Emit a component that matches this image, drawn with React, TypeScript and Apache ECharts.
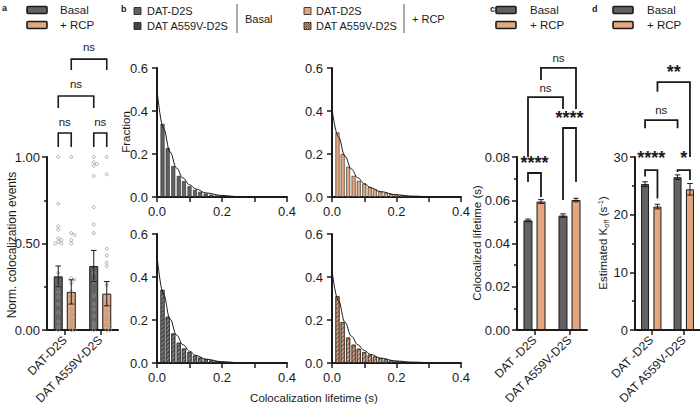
import React, { useEffect, useRef } from 'react';
import * as echarts from 'echarts';

const FONT = '"Liberation Sans", Arial, Helvetica, sans-serif';
const INK = '#1b1b1b';
const DARK = '#626262';
const ORANGE = '#E3A67E';
const POINT = '#9a9a9a';

// ---------- panel a : normalized colocalization events ----------
const groupsA = ['DAT-D2S', 'DAT A559V-D2S'];
const eventsBasal = [0.31, 0.37];
const eventsBasalSem = [0.06, 0.09];
const eventsRcp = [0.22, 0.21];
const eventsRcpSem = [0.07, 0.07];
const pointsBasalD2S = [1.0, 0.73, 0.6, 0.58, 0.53, 0.52, 0.51, 0.5, 0.5, 0.33, 0.25, 0.22, 0.19, 0.15, 0.1, 0.05, 0.02, 0.0];
const pointsRcpD2S = [1.0, 0.56, 0.55, 0.52, 0.5, 0.3, 0.29, 0.27, 0.22, 0.19, 0.16, 0.12, 0.09, 0.06, 0.04, 0.02, 0.0, 0.0];
const pointsBasalA559V = [1.0, 0.97, 0.96, 0.95, 0.89, 0.71, 0.61, 0.56, 0.33, 0.28, 0.2, 0.15, 0.12, 0.08, 0.04, 0.02, 0.0];
const pointsRcpA559V = [1.0, 0.9, 0.47, 0.43, 0.39, 0.37, 0.26, 0.16, 0.14, 0.11, 0.08, 0.06, 0.03, 0.02, 0.0, 0.0];

// ---------- panel b : lifetime histograms ----------
const binCenters = [0.017, 0.033, 0.05, 0.067, 0.083, 0.1, 0.117, 0.133, 0.15, 0.167, 0.183, 0.2, 0.217, 0.233, 0.25];
const fracBasalD2S = [0.34, 0.228, 0.144, 0.098, 0.074, 0.05, 0.033, 0.024, 0.016, 0.011, 0.007, 0.005, 0.003, 0.002, 0.001];
const fracRcpD2S = [0.3, 0.2, 0.14, 0.098, 0.075, 0.062, 0.047, 0.036, 0.026, 0.02, 0.015, 0.012, 0.008, 0.005, 0.004];
const fracBasalA559V = [0.34, 0.215, 0.137, 0.094, 0.067, 0.05, 0.034, 0.025, 0.018, 0.012, 0.008, 0.005, 0.003, 0.002, 0.001];
const fracRcpA559V = [0.31, 0.19, 0.118, 0.085, 0.066, 0.05, 0.038, 0.03, 0.022, 0.017, 0.012, 0.009, 0.006, 0.004, 0.003];
const fitX = [0, 0.02, 0.04, 0.06, 0.08, 0.1, 0.12, 0.15, 0.2, 0.25, 0.3, 0.35];
const fitBasalD2S = [0.5, 0.32, 0.21, 0.135, 0.088, 0.057, 0.037, 0.019, 0.007, 0.002, 0.001, 0.0005];
const fitRcpD2S = [0.41, 0.28, 0.19, 0.13, 0.09, 0.062, 0.043, 0.025, 0.01, 0.004, 0.002, 0.001];
const fitBasalA559V = [0.5, 0.32, 0.205, 0.13, 0.085, 0.055, 0.035, 0.018, 0.006, 0.002, 0.001, 0.0005];
const fitRcpA559V = [0.43, 0.29, 0.19, 0.125, 0.085, 0.058, 0.04, 0.023, 0.009, 0.004, 0.002, 0.001];

// ---------- panels c / d ----------
const groupsCD = ['DAT -D2S', 'DAT A559V-D2S'];
const lifetimeBasal = [0.0507, 0.0529];
const lifetimeBasalSem = [0.0006, 0.0008];
const lifetimeRcp = [0.0594, 0.0601];
const lifetimeRcpSem = [0.0009, 0.0008];
const koffBasal = [25.3, 26.5];
const koffBasalSem = [0.4, 0.4];
const koffRcp = [21.4, 24.4];
const koffRcpSem = [0.4, 1.0];

// ---------- significance brackets: [cat1, side1, cat2, side2, top, leg1, leg2, labelY] ----------
const bracketLabelsA = ['ns', 'ns', 'ns', 'ns'];
const bracketRowsA = [
  [0, -1, 0, 1, 1.139, 1.058, 1.058, 1.202],
  [1, -1, 1, 1, 1.139, 1.058, 1.058, 1.202],
  [0, -1, 1, -1, 1.353, 1.283, 1.283, 1.422],
  [0, 1, 1, 1, 1.566, 1.503, 1.503, 1.636],
];
const bracketLabelsC = ['****', '****', 'ns', 'ns'];
const bracketRowsC = [
  [0, -1, 0, 1, 0.0726, 0.0684, 0.0615, 0.0772],
  [1, -1, 1, 1, 0.0934, 0.0601, 0.0684, 0.098],
  [0, -1, 1, -1, 0.1077, 0.08, 0.1022, 0.1119],
  [0, 1, 1, 1, 0.1212, 0.1156, 0.1022, 0.1258],
];
const bracketLabelsD = ['****', '*', 'ns', '**'];
const bracketRowsD = [
  [0, -1, 0, 1, 27.74, 26.6, 22.8, 29.8],
  [1, -1, 1, 1, 27.74, 27.4, 26.0, 29.8],
  [0, -1, 1, -1, 36.4, 35.0, 35.0, 38.2],
  [0, 1, 1, 1, 43.0, 41.3, 30.0, 44.7],
];

function swarm(values: number[], pxPerUnit: number): number[] {
  const placed: { x: number; y: number }[] = [];
  const cand = [0, 3.2, -3.2, 6.4, -6.4];
  return values.map((v) => {
    const y = v * pxPerUnit;
    for (const c of cand) {
      if (placed.every((p) => Math.hypot(p.x - c, p.y - y) >= 3)) {
        placed.push({ x: c, y });
        return c;
      }
    }
    placed.push({ x: 0, y });
    return 0;
  });
}

function errorBars(g: number, rows: number[][], off: number) {
  return {
    type: 'custom',
    xAxisIndex: g,
    yAxisIndex: g,
    z: 6,
    data: rows,
    renderItem: (_p: any, api: any) => {
      const cat = api.value(0), m = api.value(1), s = api.value(2), side = api.value(3);
      const top = api.coord([cat, m + s]);
      const bot = api.coord([cat, m - s]);
      const x = top[0] + side * off;
      const st = { stroke: INK, lineWidth: 1 };
      const cap = 2.8;
      return {
        type: 'group',
        children: [
          { type: 'line', shape: { x1: x, y1: top[1], x2: x, y2: bot[1] }, style: st },
          { type: 'line', shape: { x1: x - cap, y1: top[1], x2: x + cap, y2: top[1] }, style: st },
          { type: 'line', shape: { x1: x - cap, y1: bot[1], x2: x + cap, y2: bot[1] }, style: st },
        ],
      };
    },
  };
}

function brackets(g: number, rows: number[][], labels: string[], off: number, lw: number) {
  return {
    type: 'custom',
    xAxisIndex: g,
    yAxisIndex: g,
    z: 7,
    encode: { x: 0, y: 4 },
    data: rows,
    renderItem: (p: any, api: any) => {
      const c1 = api.value(0), s1 = api.value(1), c2 = api.value(2), s2 = api.value(3);
      const top = api.value(4), l1 = api.value(5), l2 = api.value(6), ly = api.value(7);
      const a = api.coord([c1, top]);
      const b = api.coord([c2, top]);
      const x1 = a[0] + s1 * off;
      const x2 = b[0] + s2 * off;
      const yTop = a[1];
      const y1 = api.coord([c1, l1])[1];
      const y2 = api.coord([c2, l2])[1];
      const yl = api.coord([c1, ly])[1];
      const label = labels[p.dataIndex];
      const star = label.indexOf('*') >= 0;
      return {
        type: 'group',
        children: [
          {
            type: 'polyline',
            shape: { points: [[x1, y1], [x1, yTop], [x2, yTop], [x2, y2]] },
            style: { stroke: INK, lineWidth: lw, fill: 'none' },
          },
          {
            type: 'text',
            x: (x1 + x2) / 2,
            y: yl,
            style: {
              text: label,
              textAlign: 'center',
              textVerticalAlign: 'middle',
              fontFamily: FONT,
              fontSize: star ? 18 : 11.5,
              fontWeight: star ? 'bold' : 'normal',
              fill: INK,
            },
          },
        ],
      };
    },
  };
}

function pointsSeries(g: number, rows: number[][], off: number) {
  return {
    type: 'custom',
    xAxisIndex: g,
    yAxisIndex: g,
    z: 5,
    data: rows,
    renderItem: (_p: any, api: any) => {
      const c = api.coord([api.value(0), api.value(1)]);
      return {
        type: 'circle',
        shape: { cx: c[0] + api.value(2) * off + api.value(3), cy: c[1], r: 1.5 },
        style: { fill: 'none', stroke: POINT, lineWidth: 0.8 },
      };
    },
  };
}

const axisLineStyle = { color: INK, width: 2 };
const tickStyle = { color: INK, width: 1.5 };
const labelBase = { fontFamily: FONT, color: INK };
const TICK_FONT = 13;

function catX(g: number, groups: string[]) {
  return {
    type: 'category',
    gridIndex: g,
    data: groups,
    axisLine: { show: true, lineStyle: axisLineStyle },
    axisTick: { show: true, alignWithLabel: true, length: 5, lineStyle: tickStyle },
    axisLabel: { ...labelBase, rotate: 45, fontSize: 12, margin: 8, interval: 0 },
    splitLine: { show: false },
  };
}

function valY(g: number, max: number, interval: number, fmt: (v: number) => string, minor: boolean, margin: number) {
  return {
    type: 'value',
    gridIndex: g,
    min: 0,
    max,
    interval,
    axisLine: { show: true, lineStyle: axisLineStyle },
    axisTick: { show: true, length: 5, lineStyle: tickStyle },
    minorTick: { show: minor, splitNumber: 2, length: 3, lineStyle: tickStyle },
    axisLabel: { ...labelBase, fontSize: TICK_FONT, margin, formatter: fmt },
    splitLine: { show: false },
    minorSplitLine: { show: false },
  };
}

function histX(g: number) {
  return {
    type: 'value',
    gridIndex: g,
    min: 0,
    max: 0.4,
    interval: 0.1,
    axisLine: { show: true, onZero: false, lineStyle: axisLineStyle },
    axisTick: { show: true, length: 5, lineStyle: tickStyle },
    axisLabel: {
      ...labelBase,
      fontSize: TICK_FONT,
      margin: 8,
      formatter: (v: number) => (Math.round(v * 10) % 2 === 0 ? v.toFixed(1) : ''),
    },
    splitLine: { show: false },
  };
}

const hatchDark = {
  symbol: 'rect',
  symbolSize: 1,
  dashArrayX: [1, 0],
  dashArrayY: [1, 2],
  rotation: -Math.PI / 4,
  color: 'rgba(255,255,255,0.35)',
};
const hatchOrange = {
  symbol: 'rect',
  symbolSize: 1,
  dashArrayX: [1, 0],
  dashArrayY: [1, 2],
  rotation: -Math.PI / 4,
  color: 'rgba(60,40,25,0.6)',
};

const histPanels = [
  { frac: fracBasalD2S, fit: fitBasalD2S, color: DARK, decal: null as any },
  { frac: fracRcpD2S, fit: fitRcpD2S, color: ORANGE, decal: null as any },
  { frac: fracBasalA559V, fit: fitBasalA559V, color: '#555555', decal: hatchDark },
  { frac: fracRcpA559V, fit: fitRcpA559V, color: ORANGE, decal: hatchOrange },
];

function hatchSquare(x0: number, y0: number, s: number, fill: string, stroke: string) {
  const children: any[] = [
    { type: 'rect', shape: { x: x0, y: y0, width: s, height: s }, style: { fill, stroke: INK, lineWidth: 0.8 } },
  ];
  for (let c = -s + 1.5; c < s; c += 2.2) {
    const sx = Math.max(0, c), sy = Math.max(0, -c);
    const ex = Math.min(s, s + c), ey = Math.min(s, s - c);
    children.push({
      type: 'line',
      shape: { x1: x0 + sx, y1: y0 + sy, x2: x0 + ex, y2: y0 + ey },
      style: { stroke, lineWidth: 0.9 },
    });
  }
  return { type: 'group', children };
}

function txt(text: string, x: number, y: number, extra: any = {}, elExtra: any = {}) {
  return {
    type: 'text',
    x,
    y,
    ...elExtra,
    style: {
      text,
      fontFamily: FONT,
      fontSize: 11,
      fill: INK,
      textAlign: 'left',
      textVerticalAlign: 'middle',
      ...extra,
    },
  };
}

function legendBox(x: number, y: number, fill: string) {
  return {
    type: 'rect',
    shape: { x, y, width: 20, height: 7, r: 1 },
    style: { fill, stroke: INK, lineWidth: 1.6 },
  };
}

export default function App() {
  const ref = useRef<HTMLDivElement>(null);

  useEffect(() => {
    if (!ref.current) return;
    const chart = echarts.init(ref.current, undefined, { renderer: 'svg' });

    const OFF_AC = 6.5;
    const OFF_D = 6.2;
    const pxA = 173;

    const ptsRows: number[][] = [];
    [
      [0, -1, pointsBasalD2S],
      [0, 1, pointsRcpD2S],
      [1, -1, pointsBasalA559V],
      [1, 1, pointsRcpA559V],
    ].forEach(([cat, side, vals]: any) => {
      const j = swarm(vals, pxA);
      vals.forEach((v: number, i: number) => ptsRows.push([cat, v, side, j[i]]));
    });

    const grids = [
      { left: 47, top: 157, width: 71, height: 173 },
      { left: 157, top: 68, width: 130, height: 129 },
      { left: 332, top: 68, width: 129, height: 129 },
      { left: 157, top: 234, width: 130, height: 129 },
      { left: 332, top: 234, width: 129, height: 129 },
      { left: 517, top: 157, width: 70, height: 173 },
      { left: 635, top: 157, width: 65, height: 173 },
    ].map((g) => ({ ...g, containLabel: false, outerBoundsMode: 'none' }));

    const xAxis: any[] = [catX(0, groupsA), histX(1), histX(2), histX(3), histX(4), catX(5, groupsCD), catX(6, groupsCD)];
    const f1 = (v: number) => v.toFixed(1);
    const yAxis: any[] = [
      valY(0, 1, 0.5, (v) => v.toFixed(2), true, 7),
      valY(1, 0.6, 0.2, f1, false, 9),
      valY(2, 0.6, 0.2, f1, false, 9),
      valY(3, 0.6, 0.2, f1, false, 9),
      valY(4, 0.6, 0.2, f1, false, 9),
      valY(5, 0.08, 0.02, (v) => v.toFixed(2), true, 7),
      valY(6, 30, 10, (v) => String(Math.round(v)), true, 7),
    ];

    const barStyle = (color: string) => ({ color, borderColor: INK, borderWidth: 1 });

    const series: any[] = [
      // panel a
      { type: 'bar', xAxisIndex: 0, yAxisIndex: 0, data: eventsBasal, barWidth: 9, barGap: '45%', itemStyle: barStyle(DARK), z: 2 },
      { type: 'bar', xAxisIndex: 0, yAxisIndex: 0, data: eventsRcp, barWidth: 9, barGap: '45%', itemStyle: barStyle(ORANGE), z: 2 },
      pointsSeries(0, ptsRows, OFF_AC),
      errorBars(0, [
        [0, eventsBasal[0], eventsBasalSem[0], -1],
        [1, eventsBasal[1], eventsBasalSem[1], -1],
        [0, eventsRcp[0], eventsRcpSem[0], 1],
        [1, eventsRcp[1], eventsRcpSem[1], 1],
      ], OFF_AC),
      brackets(0, bracketRowsA, bracketLabelsA, OFF_AC, 1.6),
      // panel c
      { type: 'bar', xAxisIndex: 5, yAxisIndex: 5, data: lifetimeBasal, barWidth: 9, barGap: '45%', itemStyle: barStyle(DARK) },
      { type: 'bar', xAxisIndex: 5, yAxisIndex: 5, data: lifetimeRcp, barWidth: 9, barGap: '45%', itemStyle: barStyle(ORANGE) },
      errorBars(5, [
        [0, lifetimeBasal[0], lifetimeBasalSem[0], -1],
        [1, lifetimeBasal[1], lifetimeBasalSem[1], -1],
        [0, lifetimeRcp[0], lifetimeRcpSem[0], 1],
        [1, lifetimeRcp[1], lifetimeRcpSem[1], 1],
      ], OFF_AC),
      brackets(5, bracketRowsC, bracketLabelsC, OFF_AC, 1.8),
      // panel d
      { type: 'bar', xAxisIndex: 6, yAxisIndex: 6, data: koffBasal, barWidth: 8, barGap: '55%', itemStyle: barStyle(DARK) },
      { type: 'bar', xAxisIndex: 6, yAxisIndex: 6, data: koffRcp, barWidth: 8, barGap: '55%', itemStyle: barStyle(ORANGE) },
      errorBars(6, [
        [0, koffBasal[0], koffBasalSem[0], -1],
        [1, koffBasal[1], koffBasalSem[1], -1],
        [0, koffRcp[0], koffRcpSem[0], 1],
        [1, koffRcp[1], koffRcpSem[1], 1],
      ], OFF_D),
      brackets(6, bracketRowsD, bracketLabelsD, OFF_D, 1.8),
    ];

    histPanels.forEach((h, i) => {
      const g = i + 1;
      series.push({
        type: 'bar',
        xAxisIndex: g,
        yAxisIndex: g,
        barWidth: 4,
        data: binCenters.map((x, k) => [x, h.frac[k]]),
        itemStyle: {
          color: h.color,
          borderColor: '#222',
          borderWidth: 0.6,
          ...(h.decal ? { decal: h.decal } : {}),
        },
      });
      series.push({
        type: 'line',
        xAxisIndex: g,
        yAxisIndex: g,
        data: fitX.map((x, k) => [x, h.fit[k]]),
        smooth: 0.4,
        smoothMonotone: 'x',
        showSymbol: false,
        symbol: 'none',
        lineStyle: { color: INK, width: 1 },
        z: 5,
      });
    });

    const bold = { fontWeight: 'bold', fontSize: 9 };
    const legFont = { fontSize: 11.5 };
    const legFontB = { fontSize: 11 };
    const graphic: any[] = [
      txt('a', 2, 8, bold),
      txt('b', 121, 9, bold),
      txt('c', 490, 9, bold),
      txt('d', 592, 9, bold),
      // legend a
      legendBox(27, 6.5, DARK),
      txt('Basal', 60, 10, legFont),
      legendBox(27, 21.5, ORANGE),
      txt('+ RCP', 60, 25, legFont),
      // legend c
      legendBox(496, 6.5, DARK),
      txt('Basal', 530, 10, legFont),
      legendBox(496, 21.5, ORANGE),
      txt('+ RCP', 530, 25, legFont),
      // legend d
      legendBox(613, 6.5, DARK),
      txt('Basal', 647, 10, legFont),
      legendBox(613, 21.5, ORANGE),
      txt('+ RCP', 647, 25, legFont),
      // legend b
      { type: 'rect', shape: { x: 134, y: 7.5, width: 7, height: 7 }, style: { fill: DARK, stroke: INK, lineWidth: 0.8 } },
      txt('DAT-D2S', 147, 11, legFontB),
      hatchSquare(134, 22.5, 7, DARK, INK),
      txt('DAT A559V-D2S', 147, 26, legFontB),
      { type: 'line', shape: { x1: 237, y1: 4, x2: 237, y2: 33 }, style: { stroke: '#555', lineWidth: 1 } },
      txt('Basal', 245, 18.5, legFontB),
      { type: 'rect', shape: { x: 304, y: 7.5, width: 7, height: 7 }, style: { fill: ORANGE, stroke: INK, lineWidth: 0.8 } },
      txt('DAT-D2S', 316, 11, legFontB),
      hatchSquare(304, 22.5, 7, ORANGE, '#3a2a1e'),
      txt('DAT A559V-D2S', 316, 26, legFontB),
      { type: 'line', shape: { x1: 404, y1: 4, x2: 404, y2: 33 }, style: { stroke: '#555', lineWidth: 1 } },
      txt('+ RCP', 412, 18.5, legFontB),
      // axis titles
      txt('Norm. colocalization events', 12, 245, { textAlign: 'center', fontSize: 12 }, { rotation: Math.PI / 2 }),
      txt('Fraction', 126, 132, { textAlign: 'center', fontSize: 11.5 }, { rotation: Math.PI / 2 }),
      txt('Colocalization lifetime (s)', 314, 398, { textAlign: 'center', fontSize: 11.5 }),
      txt('Colocalized lifetime (s)', 477, 243, { textAlign: 'center', fontSize: 11.5 }, { rotation: Math.PI / 2 }),
      {
        type: 'text',
        x: 603,
        y: 243,
        rotation: Math.PI / 2,
        style: {
          text: '{n|Estimated K}{s|off}{n| (s}{p|-1}{n|)}',
          textAlign: 'center',
          textVerticalAlign: 'middle',
          fill: INK,
          fontFamily: FONT,
          rich: {
            n: { fontSize: 11.5, lineHeight: 14, fontFamily: FONT, fill: INK },
            s: { fontSize: 7.5, lineHeight: 7, verticalAlign: 'bottom', fontFamily: FONT, fill: INK },
            p: { fontSize: 7.5, lineHeight: 7, verticalAlign: 'top', fontFamily: FONT, fill: INK },
          },
        },
      },
    ];

    chart.setOption({
      animation: false,
      backgroundColor: '#ffffff',
      textStyle: { fontFamily: FONT },
      grid: grids,
      xAxis,
      yAxis,
      series,
      graphic,
    });

    return () => chart.dispose();
  }, []);

  return (
    <div
      ref={ref}
      style={{ position: 'fixed', left: 0, top: 0, width: 700, height: 406, background: '#fff' }}
    />
  );
}
